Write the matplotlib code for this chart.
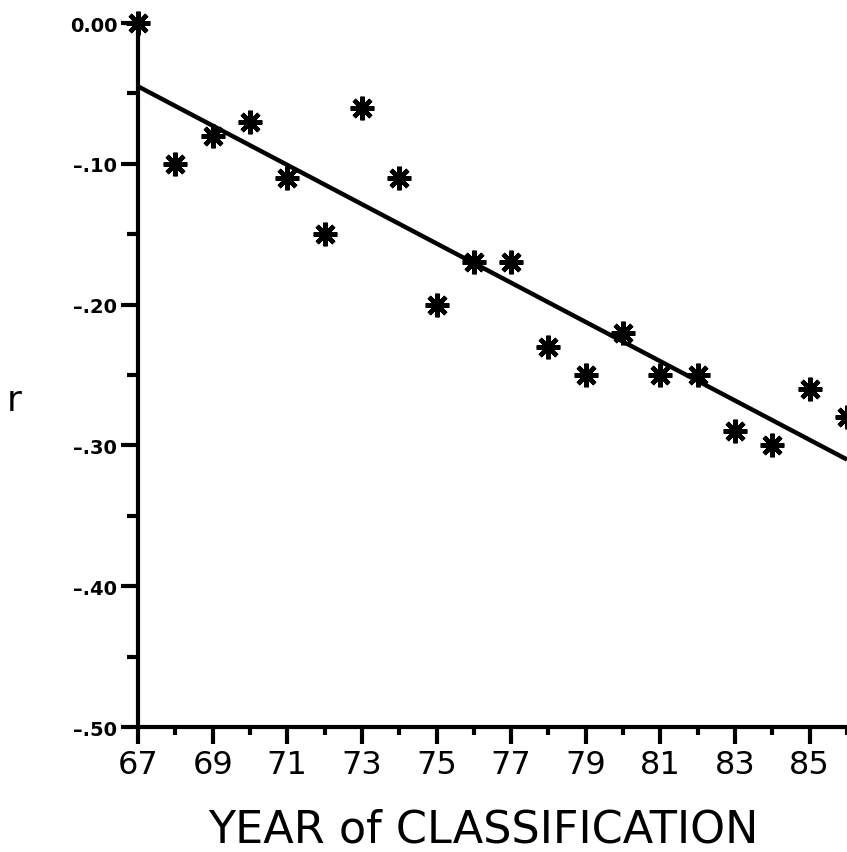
import numpy as np
import matplotlib.pyplot as plt

years = np.arange(67, 87)
r = [0.00, -0.10, -0.08, -0.07, -0.11, -0.15, -0.06, -0.11, -0.20, -0.17,
     -0.17, -0.23, -0.25, -0.22, -0.25, -0.25, -0.29, -0.30, -0.26, -0.28]
ytick_vals = [0.0, -0.1, -0.2, -0.3, -0.4, -0.5]
ytick_labels = ["0.00", "\u2013.10", "\u2013.20", "\u2013.30", "\u2013.40", "\u2013.50"]
xtick_vals = list(range(67, 87, 2))

fig = plt.figure(figsize=(8.47, 8.53), dpi=100)
ax = fig.add_axes([0.163, 0.1465, 0.837, 0.8253])

ax.spines['top'].set_visible(False)
ax.spines['right'].set_visible(False)
ax.spines['left'].set_linewidth(3)
ax.spines['bottom'].set_linewidth(3)

# regression line
slope, icpt = np.polyfit(years, r, 1)
xs = np.array([67, 86])
ax.plot(xs, slope * xs + icpt, color='black', lw=3.2, solid_capstyle='butt')

ax.plot(years, r, ls='none', marker=(8, 2, 0), ms=17, mew=3.2,
        color='black', clip_on=False)

ax.set_xlim(67, 86)
ax.set_ylim(-0.5, 0.0)

ax.set_yticks(ytick_vals)
ax.set_yticklabels(ytick_labels, fontsize=14, fontweight='bold')
ax.set_yticks(np.arange(-0.45, 0, 0.1), minor=True)
ax.set_xticks(xtick_vals)
ax.set_xticklabels([str(v) for v in xtick_vals], fontsize=23)
ax.set_xticks(range(68, 87, 2), minor=True)

ax.tick_params(axis='both', which='major', direction='out', width=3, length=12)
ax.tick_params(axis='y', which='minor', direction='out', width=3, length=8)
ax.tick_params(axis='x', which='minor', direction='out', width=3, length=6)
ax.tick_params(axis='x', which='major', pad=4)
ax.tick_params(axis='y', which='major', pad=3)

fig.text(0.571, 0.012, "YEAR of CLASSIFICATION", fontsize=32,
         ha='center', va='baseline')
fig.text(0.017, 0.53, "r", fontsize=26, ha='center', va='center')

fig.savefig("out.png", dpi=100)
